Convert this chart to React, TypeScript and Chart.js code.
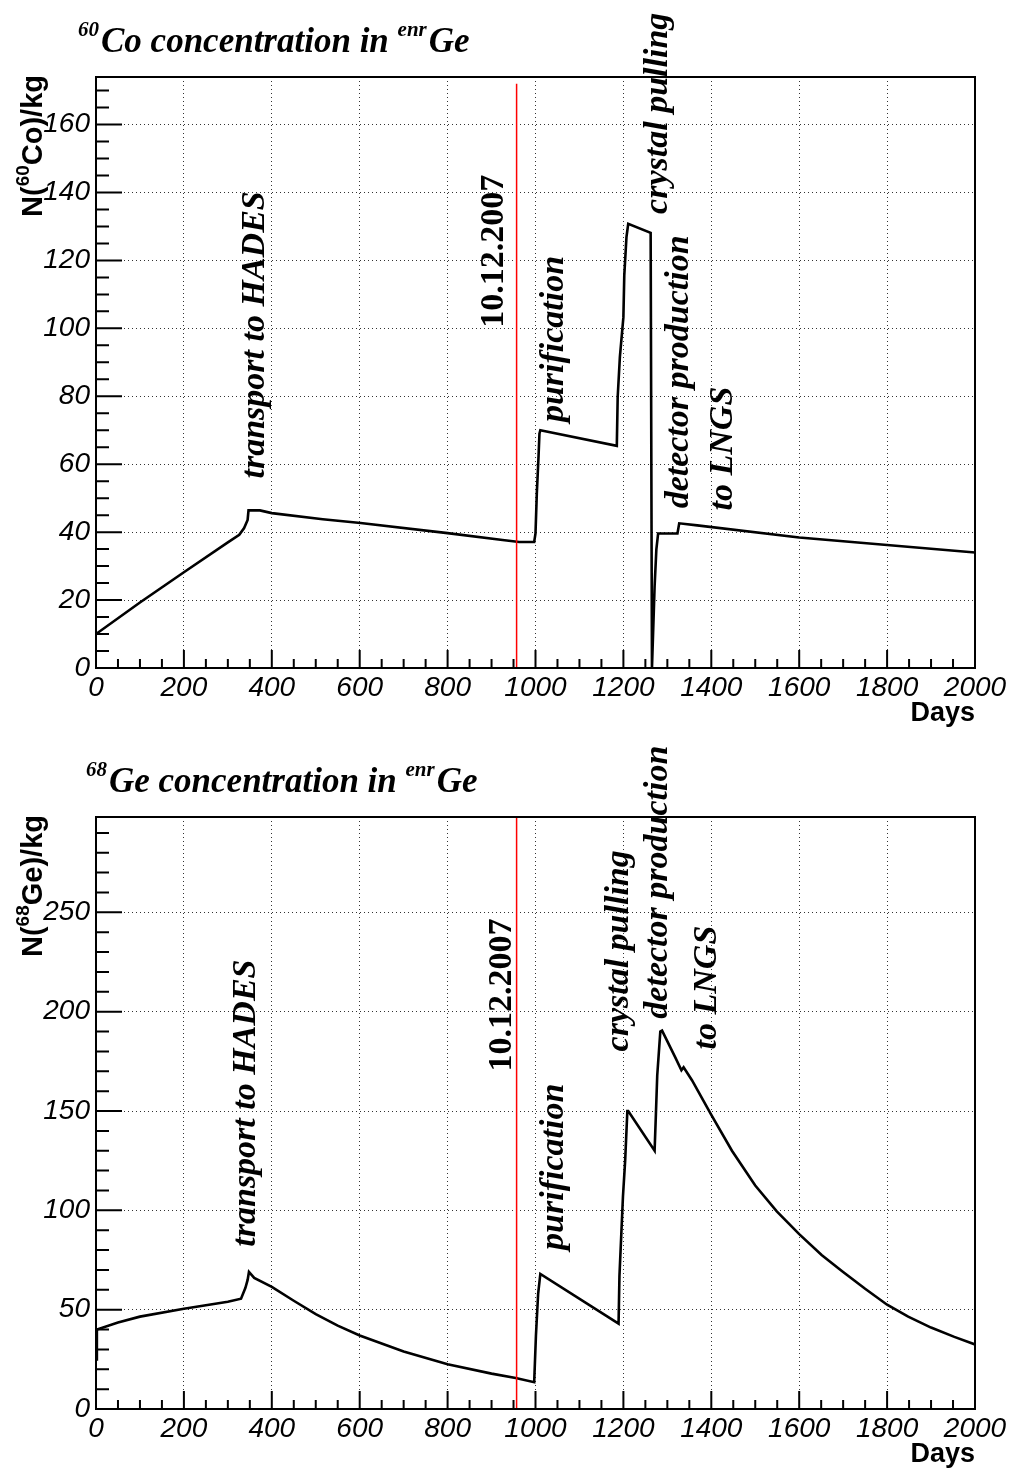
import React, { useEffect, useRef } from "react";
import { Chart, registerables } from "chart.js";

Chart.register(...registerables);

// ---------- data ----------
const xTicks = [0, 200, 400, 600, 800, 1000, 1200, 1400, 1600, 1800, 2000];
const xMinorStep = 50;

const coYTicks = [0, 20, 40, 60, 80, 100, 120, 140, 160];
const geYTicks = [0, 50, 100, 150, 200, 250];

const coDays = [0, 100, 200, 300, 326, 337, 345, 347, 373, 400, 516, 602, 800, 925, 963, 997, 1000, 1003, 1007, 1009, 1011, 1185, 1187, 1192, 1200, 1202, 1207, 1211, 1262, 1265, 1271, 1275, 1279, 1323, 1327, 1368, 1600, 2000];
const coValues = [10.0, 19.3, 28.2, 37.0, 39.2, 41.2, 43.6, 46.4, 46.4, 45.6, 43.8, 42.7, 39.7, 37.7, 37.1, 37.1, 39.6, 51.4, 62.6, 69.0, 70.0, 65.4, 79.8, 91.6, 103.3, 115.6, 126.9, 130.8, 128.1, 0, 24, 34.9, 39.6, 39.6, 42.6, 42.0, 38.4, 34.0];

const geDays = [0, 2, 50, 100, 200, 300, 330, 340, 345, 348, 360, 400, 450, 500, 550, 600, 700, 800, 900, 955, 997, 1001, 1006, 1011, 1189, 1191, 1199, 1204, 1209, 1211, 1271, 1274, 1277, 1284, 1288, 1318, 1332, 1337, 1356, 1400, 1447, 1500, 1549, 1600, 1651, 1697, 1750, 1800, 1848, 1900, 1953, 2000];
const geValues = [25, 40, 43.5, 46.5, 50.5, 54, 55.5, 61, 65, 69, 66, 61.5, 54.5, 47.8, 42, 37, 29, 22.5, 17.8, 15.6, 13.5, 37, 58, 68, 43, 67, 107, 125, 150, 150, 130, 148.7, 168, 190, 190.5, 177, 170.5, 172, 165.5, 148, 130, 112.5, 99.5, 88, 77.5, 69.5, 60.5, 52.5, 46.5, 41, 36.3, 32.5];

const redLineDay = 957;
const coRedTop = 172;
const geRedTop = 298;
const coYMax = 174;
const geYMax = 298;

const noteTexts = ["transport to HADES", "10.12.2007", "purification", "crystal pulling", "detector production", "to LNGS"];
const noteItalic = [true, false, true, true, true, true];
const coNoteDays = [382, 926, 1063, 1299, 1347, 1447];
const coNoteValues = [55.8, 100.2, 72.4, 133.7, 47, 46.4];
const geNoteDays = [362, 944, 1063, 1210, 1299, 1411];
const geNoteValues = [81.7, 169.9, 80.1, 180, 196.5, 181];

// ---------- panels ----------
type Panel = {
  days: number[];
  values: number[];
  yTicks: number[];
  yMax: number;
  yMinorStep: number;
  redTop: number;
  noteDays: number[];
  noteValues: number[];
  iso: string;
  el: string;
  padTop: number;
  xAxisHeight: number;
  titleX: number;
  titleY: number;
};

const panels: Panel[] = [
  {
    days: coDays, values: coValues, yTicks: coYTicks, yMax: coYMax, yMinorStep: 5,
    redTop: coRedTop, noteDays: coNoteDays, noteValues: coNoteValues,
    iso: "60", el: "Co", padTop: 77, xAxisHeight: 68, titleX: 78, titleY: 52,
  },
  {
    days: geDays, values: geValues, yTicks: geYTicks, yMax: geYMax, yMinorStep: 10,
    redTop: geRedTop, noteDays: geNoteDays, noteValues: geNoteValues,
    iso: "68", el: "Ge", padTop: 81, xAxisHeight: 63, titleX: 86, titleY: 56,
  },
];

const SERIF = "'Liberation Serif', 'Times New Roman', serif";
const SANS = "'Liberation Sans', Arial, Helvetica, sans-serif";

function makeDecor(p: Panel) {
  return {
    id: "decor",
    afterDraw(chart: any) {
      const ctx: CanvasRenderingContext2D = chart.ctx;
      const { left, right, top, bottom } = chart.chartArea;
      const xs = chart.scales.x;
      const ys = chart.scales.y;
      ctx.save();
      ctx.strokeStyle = "#000";
      ctx.fillStyle = "#000";

      // frame
      ctx.lineWidth = 2;
      ctx.strokeRect(left, top, right - left, bottom - top);

      // ticks (inside)
      ctx.beginPath();
      for (let v = 0; v <= p.yMax + 1e-9; v += p.yMinorStep) {
        const y = ys.getPixelForValue(v);
        const major = p.yTicks.includes(v);
        ctx.moveTo(left, y);
        ctx.lineTo(left + (major ? 26 : 13), y);
      }
      for (let d = 0; d <= 2000; d += xMinorStep) {
        const x = xs.getPixelForValue(d);
        const major = xTicks.includes(d);
        ctx.moveTo(x, bottom);
        ctx.lineTo(x, bottom - (major ? 18 : 9));
      }
      ctx.stroke();

      // title
      ctx.textAlign = "left";
      ctx.textBaseline = "alphabetic";
      const big = `italic bold 35px ${SERIF}`;
      const small = `italic bold 21px ${SERIF}`;
      let tx = p.titleX;
      ctx.font = small;
      ctx.fillText(p.iso, tx, p.titleY - 16);
      tx += ctx.measureText(p.iso).width + 2;
      ctx.font = big;
      const mid = `${p.el} concentration in `;
      ctx.fillText(mid, tx, p.titleY);
      tx += ctx.measureText(mid).width;
      ctx.font = small;
      ctx.fillText("enr", tx, p.titleY - 16);
      tx += ctx.measureText("enr").width + 2;
      ctx.font = big;
      ctx.fillText("Ge", tx, p.titleY);

      // y-axis title (rotated)
      const yBig = `bold 29px ${SANS}`;
      const ySmall = `bold 19px ${SANS}`;
      ctx.font = yBig;
      const w1 = ctx.measureText("N(").width;
      const rest = `${p.el})/kg`;
      const w3 = ctx.measureText(rest).width;
      ctx.font = ySmall;
      const w2 = ctx.measureText(p.iso).width;
      const total = w1 + w2 + w3;
      ctx.save();
      ctx.translate(42, top - 2 + total);
      ctx.rotate(-Math.PI / 2);
      ctx.font = yBig;
      ctx.fillText("N(", 0, 0);
      ctx.font = ySmall;
      ctx.fillText(p.iso, w1, -13);
      ctx.font = yBig;
      ctx.fillText(rest, w1 + w2, 0);
      ctx.restore();

      // x-axis title
      ctx.font = `bold 27px ${SANS}`;
      ctx.textAlign = "right";
      ctx.fillText("Days", right, bottom + 53);

      // annotations
      ctx.textAlign = "left";
      for (let i = 0; i < noteTexts.length; i++) {
        const x = xs.getPixelForValue(p.noteDays[i]);
        const y = ys.getPixelForValue(p.noteValues[i]);
        ctx.save();
        ctx.translate(x, y);
        ctx.rotate(-Math.PI / 2);
        ctx.font = `${noteItalic[i] ? "italic " : ""}bold 34px ${SERIF}`;
        ctx.fillText(noteTexts[i], 0, 0);
        ctx.restore();
      }
      ctx.restore();
    },
  };
}

function PanelChart({ p }: { p: Panel }) {
  const ref = useRef<HTMLCanvasElement | null>(null);
  useEffect(() => {
    if (!ref.current) return;
    const tickFont = { family: SANS, size: 28, style: "italic" as const };
    const chart = new Chart(ref.current, {
      type: "scatter",
      data: {
        datasets: [
          {
            data: [{ x: redLineDay, y: 0 }, { x: redLineDay, y: p.redTop }],
            showLine: true,
            borderColor: "#ff0000",
            borderWidth: 1.5,
            pointRadius: 0,
          },
          {
            data: p.days.map((d, i) => ({ x: d, y: p.values[i] })),
            showLine: true,
            borderColor: "#000",
            borderWidth: 2.6,
            pointRadius: 0,
            tension: 0,
          },
        ],
      },
      options: {
        responsive: false,
        animation: false,
        events: [],
        layout: { padding: { top: p.padTop, right: 35, left: 0, bottom: 0 } },
        plugins: { legend: { display: false }, tooltip: { enabled: false }, title: { display: false } },
        scales: {
          x: {
            type: "linear",
            min: 0,
            max: 2000,
            afterBuildTicks: (s: any) => { s.ticks = xTicks.map((v) => ({ value: v })); },
            afterFit: (s: any) => { s.height = p.xAxisHeight; },
            grid: { color: "#333", lineWidth: 1, drawTicks: false },
            border: { display: false, dash: [1, 3] },
            ticks: { font: tickFont, color: "#000", padding: 3, maxRotation: 0, autoSkip: false, callback: (v: any) => String(v) },
          },
          y: {
            type: "linear",
            min: 0,
            max: p.yMax,
            afterBuildTicks: (s: any) => { s.ticks = p.yTicks.map((v) => ({ value: v })); },
            afterFit: (s: any) => { s.width = 96; },
            grid: { color: "#333", lineWidth: 1, drawTicks: false },
            border: { display: false, dash: [1, 3] },
            ticks: { font: tickFont, color: "#000", padding: 6, autoSkip: false, callback: (v: any) => String(v) },
          },
        },
      },
      plugins: [makeDecor(p)],
    } as any);
    return () => chart.destroy();
  }, [p]);
  return <canvas ref={ref} width={1010} height={736} style={{ display: "block", width: 1010, height: 736 }} />;
}

export default function App() {
  useEffect(() => {
    document.body.style.margin = "0";
    document.body.style.background = "#fff";
  }, []);
  return (
    <div style={{ width: 1010, background: "#fff" }}>
      {panels.map((p, i) => (
        <PanelChart key={i} p={p} />
      ))}
    </div>
  );
}
